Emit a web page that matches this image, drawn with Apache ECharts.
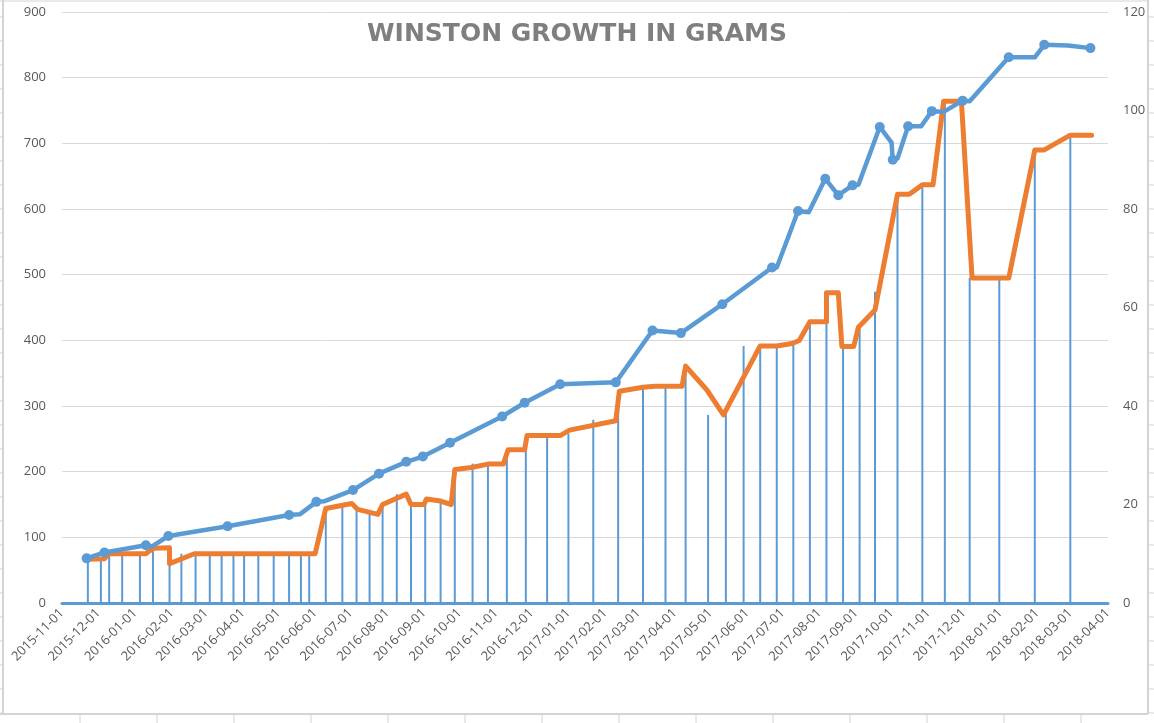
<!DOCTYPE html>
<html>
<head>
<meta charset="utf-8">
<script src="https://cdn.jsdelivr.net/npm/echarts@6/dist/echarts.min.js"></script>
<style>html,body{margin:0;padding:0;background:#fff}#c{width:1154px;height:723px}</style>
</head>
<body>
<div id="c"></div>
<script>
// Weight in grams (left axis)
const blueDates = ['2015-11-21','2015-12-06','2016-01-10','2016-01-15','2016-01-29','2016-03-19','2016-05-10','2016-05-19','2016-06-02','2016-06-09','2016-07-03','2016-07-25','2016-08-17','2016-08-31','2016-09-23','2016-11-06','2016-11-25','2016-12-25','2017-02-10','2017-03-13','2017-04-06','2017-05-11','2017-06-22','2017-06-26','2017-07-14','2017-07-23','2017-08-06','2017-08-17','2017-08-29','2017-09-03','2017-09-21','2017-10-01','2017-10-02','2017-10-06','2017-10-15','2017-10-26','2017-11-04','2017-11-14','2017-11-30','2017-12-06','2018-01-08','2018-01-30','2018-02-07','2018-02-27','2018-03-18'];
const blueValues = [68,77,88,86,102,117,134,135,154,155,172,197,215,223,244,284,305,333,336,415,411,455,511,511,597,595,646,621,636,637,725,701,675,677,726,726,749,748,765,764,831,831,850,849,845];
const blueMarked = [1,1,1,0,1,1,1,0,1,0,1,1,1,1,1,1,1,1,1,1,1,1,1,0,1,0,1,1,1,0,1,0,1,0,1,0,1,0,1,0,1,0,1,0,1];

// Second measure (right axis)
const orangeDates = ['2015-11-22','2015-12-06','2015-12-10','2016-01-10','2016-01-16','2016-01-30','2016-01-30','2016-02-20','2016-06-01','2016-06-10','2016-07-02','2016-07-07','2016-07-24','2016-07-28','2016-08-17','2016-08-21','2016-09-01','2016-09-03','2016-09-15','2016-09-24','2016-09-27','2016-10-11','2016-10-25','2016-11-07','2016-11-11','2016-11-25','2016-11-27','2016-12-25','2017-01-02','2017-02-10','2017-02-13','2017-03-05','2017-03-15','2017-04-07','2017-04-10','2017-04-28','2017-05-12','2017-06-12','2017-06-26','2017-07-09','2017-07-15','2017-07-24','2017-08-07','2017-08-07','2017-08-17','2017-08-20','2017-08-30','2017-09-03','2017-09-17','2017-10-06','2017-10-16','2017-10-27','2017-11-05','2017-11-14','2017-11-29','2017-12-08','2018-01-08','2018-01-30','2018-02-07','2018-03-01','2018-03-19'];
const orangeValues = [8.9,9.0,10,10,11.1,11.2,8,10,10,19.2,20.2,19,18,20,22.1,20,20,21.1,20.7,20,27.1,27.5,28.2,28.2,31.1,31.1,34,34,35.1,37,43,43.8,44,44,48.1,43.25,38.2,52.2,52.2,52.7,53.3,57.1,57.1,63,63,52.1,52.1,56,59.5,83,83,84.9,84.9,101.9,101.9,66,66,92,92,95,95];

// Thin columns (right axis)
const barDates = ['2015-11-22','2015-12-03','2015-12-10','2015-12-21','2016-01-05','2016-01-16','2016-01-30','2016-02-09','2016-02-21','2016-03-04','2016-03-14','2016-03-24','2016-04-02','2016-04-14','2016-04-27','2016-05-10','2016-05-20','2016-05-27','2016-06-10','2016-06-24','2016-07-06','2016-07-17','2016-07-28','2016-08-09','2016-08-21','2016-09-02','2016-09-15','2016-09-27','2016-10-12','2016-10-25','2016-11-10','2016-11-26','2016-12-14','2017-01-01','2017-01-22','2017-02-12','2017-03-05','2017-03-24','2017-04-10','2017-04-29','2017-05-14','2017-05-29','2017-06-12','2017-06-26','2017-07-10','2017-07-24','2017-08-07','2017-08-21','2017-09-04','2017-09-17','2017-10-06','2017-10-27','2017-11-15','2017-12-06','2017-12-31','2018-01-30','2018-03-01'];
const barValues = [8.9,9,10,10,10,11,8,10,10,10,10,10,10,10,10,10,10,10,19.2,19.8,19,18.4,20,22.1,20,20,20.7,27.1,28.3,28.2,31.2,34,33.8,34.4,37.2,43,43.5,44,48,38.2,38.8,52.2,52.2,52.2,52.5,57.1,57,52.1,56,63.2,83,84.9,101.9,66,66,92,95];

const titleText = 'WINSTON GROWTH IN GRAMS';
const xMin = [2015, 11, 1], xMax = [2018, 4, 1];

const BLUE = '#5B9BD5', ORANGE = '#ED7D31', LABEL = '#595959', GRID = '#D9D9D9';
const FONT = '"Open Sans", "Noto Sans", sans-serif';

// parse 'yyyy-mm-dd' as local midnight
function toTime(s) {
  const p = s.split('-').map(Number);
  return new Date(p[0], p[1] - 1, p[2]).getTime();
}
function pad(n) { return (n < 10 ? '0' : '') + n; }
// tick labels are month starts: snap to the nearest first of month
function fmtDate(v) {
  const d = new Date(v);
  let y = d.getFullYear(), m = d.getMonth();
  if (d.getDate() > 15) { m += 1; if (m > 11) { m = 0; y += 1; } }
  return y + '-' + pad(m + 1) + '-01';
}

const chart = echarts.init(document.getElementById('c'), null, {renderer: 'canvas'});

// spreadsheet frame decorations
const frame = [];
const fc = '#D4D4D4';
frame.push({type:'line', shape:{x1:3,y1:0,x2:3,y2:714}, style:{stroke:fc, lineWidth:2}, silent:true});
frame.push({type:'line', shape:{x1:0,y1:714,x2:1148,y2:714}, style:{stroke:fc, lineWidth:2}, silent:true});
frame.push({type:'line', shape:{x1:1148,y1:0,x2:1148,y2:714}, style:{stroke:fc, lineWidth:2}, silent:true});
frame.push({type:'line', shape:{x1:0,y1:1,x2:1148,y2:1}, style:{stroke:fc, lineWidth:1}, silent:true});
for (let x = 80; x < 1148; x += 77) {
  frame.push({type:'line', shape:{x1:x,y1:714,x2:x,y2:723}, style:{stroke:fc, lineWidth:1}, silent:true});
}
for (let y = 17; y < 714; y += 24) {
  frame.push({type:'line', shape:{x1:0,y1:y,x2:3,y2:y}, style:{stroke:fc, lineWidth:1}, silent:true});
  frame.push({type:'line', shape:{x1:1148,y1:y,x2:1154,y2:y}, style:{stroke:fc, lineWidth:1}, silent:true});
}

const blueData = blueDates.map((d, i) => ({
  value: [toTime(d), blueValues[i]],
  symbol: blueMarked[i] ? 'circle' : 'none'
}));
const orangeData = orangeDates.map((d, i) => [toTime(d), orangeValues[i]]);
const barData = barDates.map((d, i) => [toTime(d), barValues[i]]);

chart.setOption({
  animation: false,
  backgroundColor: '#fff',
  title: {
    text: titleText,
    left: 'center',
    top: 17,
    textStyle: {color: '#7F7F7F', fontSize: 25, fontWeight: 'bold', fontFamily: '"DejaVu Sans", sans-serif'}
  },
  grid: {left: 62, right: 46, top: 12, bottom: 120, containLabel: false},
  xAxis: {
    type: 'time',
    min: new Date(xMin[0], xMin[1] - 1, xMin[2]).getTime(),
    max: new Date(xMax[0], xMax[1] - 1, xMax[2]).getTime(),
    minInterval: 28 * 86400000,
    maxInterval: 31 * 86400000,
    axisLine: {show: true, lineStyle: {color: BLUE, width: 3}},
    axisTick: {show: false},
    splitLine: {show: false},
    axisLabel: {
      show: true,
      rotate: 45,
      color: LABEL,
      fontSize: 13,
      fontFamily: FONT,
      margin: 8,
      hideOverlap: false,
      showMinLabel: true,
      showMaxLabel: true,
      formatter: fmtDate
    }
  },
  yAxis: [
    {
      type: 'value', min: 0, max: 900, interval: 100, position: 'left',
      axisLine: {show: false}, axisTick: {show: false},
      splitLine: {show: true, lineStyle: {color: GRID, width: 1}},
      axisLabel: {color: LABEL, fontSize: 13, fontFamily: FONT, margin: 16}
    },
    {
      type: 'value', min: 0, max: 120, interval: 20, position: 'right',
      axisLine: {show: false}, axisTick: {show: false},
      splitLine: {show: false},
      axisLabel: {color: LABEL, fontSize: 13, fontFamily: FONT, margin: 15}
    }
  ],
  series: [
    {
      type: 'bar', yAxisIndex: 1, data: barData, barWidth: 2,
      itemStyle: {color: BLUE}, z: 1, silent: true
    },
    {
      type: 'line', yAxisIndex: 1, data: orangeData, showSymbol: false, symbol: 'none',
      lineStyle: {color: ORANGE, width: 5, join: 'round', cap: 'round'}, z: 2, silent: true
    },
    {
      type: 'line', yAxisIndex: 0, data: blueData, showSymbol: true, showAllSymbol: true,
      symbolSize: 10, itemStyle: {color: BLUE},
      lineStyle: {color: BLUE, width: 4.5, join: 'round', cap: 'round'}, z: 3, silent: true
    }
  ],
  graphic: frame
});
</script>
</body>
</html>
